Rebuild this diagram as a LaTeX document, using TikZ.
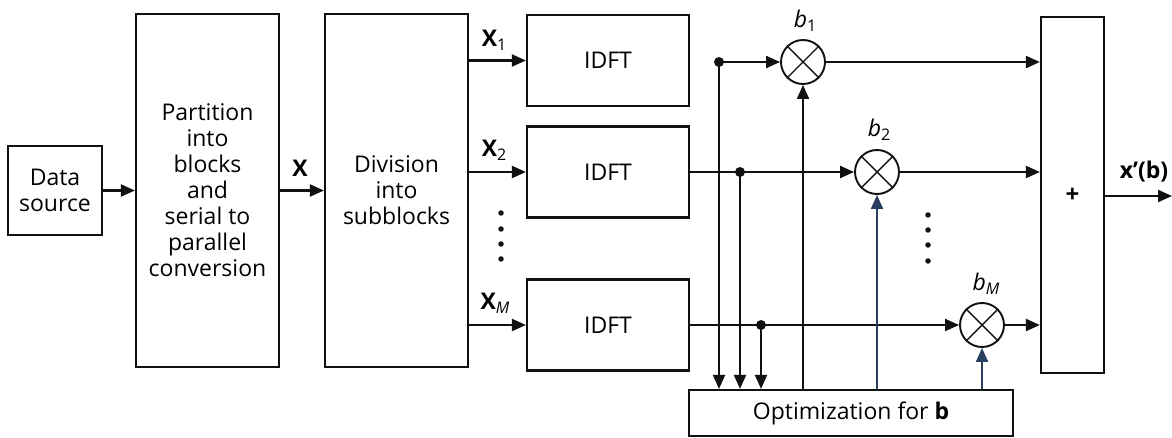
\documentclass[tikz,border=0pt]{standalone}
\usepackage{fontspec}
\setmainfont{Open Sans}
\usetikzlibrary{arrows.meta}
\definecolor{ln}{HTML}{111111}
\definecolor{bl}{HTML}{2A3F5F}
\begin{document}
\begin{tikzpicture}[x=1pt,y=-1pt,
  every node/.style={font=\fontsize{23}{26}\selectfont, text=black},
  blk/.style={draw=ln, line width=2.2pt, align=center, inner sep=0pt},
  mult/.style={draw=ln, line width=1.9pt, circle, minimum size=44pt, inner sep=0pt},
  arr/.style={draw=ln, line width=2.1pt, -{Triangle[length=14pt,width=12pt]}},
  ln/.style={draw=ln, line width=2.1pt},
  jdot/.style={fill=ln, circle, inner sep=0pt, minimum size=10pt},
  sdot/.style={fill=ln, circle, inner sep=0pt, minimum size=5.5pt},
  lbl/.style={inner sep=0pt}
]
\useasboundingbox (0,0) rectangle (1172,438);
% blocks
\node[blk, minimum width=94pt, minimum height=89pt] (ds) at (55,190.5) {Data\\source};
\node[blk, minimum width=143pt, minimum height=353pt] (part) at (207.5,190.5) {Partition\\into\\blocks\\and\\serial to\\parallel\\conversion};
\node[blk, minimum width=143pt, minimum height=353pt] (div) at (396.5,190.5) {Division\\into\\subblocks};
\node[blk, minimum width=162pt, minimum height=91pt] (f1) at (608,60.5) {IDFT};
\node[blk, minimum width=162pt, minimum height=91pt] (f2) at (608,172) {IDFT};
\node[blk, minimum width=162pt, minimum height=91pt] (fm) at (608,325) {IDFT};
\node[blk, minimum width=324pt, minimum height=46pt] (opt) at (851,413) {Optimization for \textbf{b}};
\node[blk, minimum width=63pt, minimum height=356pt, font=\fontsize{24}{24}\selectfont] (sum) at (1072.5,195) {\textbf{+}};
% multipliers
\node[mult] (m1) at (803,62) {};
\node[mult] (m2) at (877,172) {};
\node[mult] (mm) at (982,325) {};
\foreach \m in {m1,m2,mm}{
  \draw[ln, line width=1.4pt] (\m.45) -- (\m.225);
  \draw[ln, line width=1.4pt] (\m.135) -- (\m.315);
}
% junctions
\node[jdot] (j1) at (719,62) {};
\node[jdot] (j2) at (740,172) {};
\node[jdot] (jm) at (761,325) {};
\coordinate (out) at (1172,196);
% connectors
\draw[arr] (ds.east) -- (part.west);
\draw[arr] (part.east) -- (div.west);
\draw[arr] (div.east |- f1.west) -- (f1.west);
\draw[arr] (div.east |- f2.west) -- (f2.west);
\draw[arr] (div.east |- fm.west) -- (fm.west);
\draw[arr] (j1.center) -- (m1.west);
\draw[ln] (f2.east) -- (j2.center);
\draw[arr] (j2.center) -- (m2.west);
\draw[ln] (fm.east) -- (jm.center);
\draw[arr] (jm.center) -- (mm.west);
\draw[arr] (j1.center) -- (j1.center |- opt.north);
\draw[arr] (j2.center) -- (j2.center |- opt.north);
\draw[arr] (jm.center) -- (jm.center |- opt.north);
\draw[arr] (opt.north -| m1.south) -- (m1.south);
\draw[arr, draw=bl] (opt.north -| m2.south) -- (m2.south);
\draw[arr, draw=bl] (opt.north -| mm.south) -- (mm.south);
\draw[arr] (m1.east) -- (m1.east -| sum.west);
\draw[arr] (m2.east) -- (m2.east -| sum.west);
\draw[arr] (mm.east) -- (mm.east -| sum.west);
\draw[arr] (sum.east |- out) -- (out);
% labels
\node[lbl] (lx) at (300,168) {\textbf{X}};
\node[lbl] (lx1) at (494,40) {\textbf{X}\raisebox{-0.35ex}{\fontsize{16}{16}\selectfont 1}};
\node[lbl] (lx2) at (494,150) {\textbf{X}\raisebox{-0.35ex}{\fontsize{16}{16}\selectfont 2}};
\node[lbl] (lxm) at (495,303) {\textbf{X}\raisebox{-0.35ex}{\fontsize{16}{16}\selectfont\itshape M}};
\node[lbl] (lb1) at (805,21) {\textit{b}\raisebox{-0.35ex}{\fontsize{16}{16}\selectfont 1}};
\node[lbl] (lb2) at (879,130) {\textit{b}\raisebox{-0.35ex}{\fontsize{16}{16}\selectfont 2}};
\node[lbl] (lbm) at (986,284) {\textit{b}\raisebox{-0.35ex}{\fontsize{16}{16}\selectfont\itshape M}};
\node[lbl] (lout) at (1144,172) {\textbf{x\textquoteright(b)}};
% dots
\foreach \y in {213,229,244,259} \node[sdot] at (501,\y) {};
\foreach \y in {215,230,245,261} \node[sdot] at (928,\y) {};
\end{tikzpicture}
\end{document}
